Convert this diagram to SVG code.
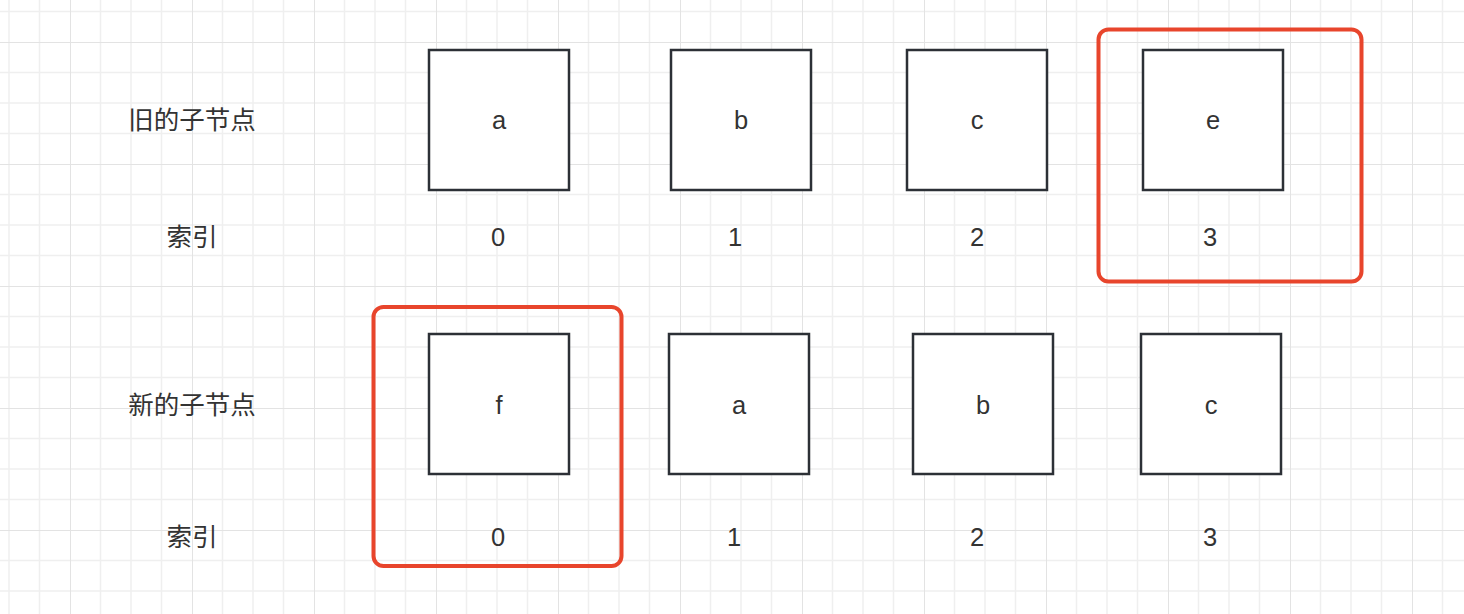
<svg xmlns="http://www.w3.org/2000/svg" width="1464" height="614" viewBox="0 0 1464 614">
  <defs>
    <pattern id="grid" x="70" y="42" width="122" height="122" patternUnits="userSpaceOnUse">
      <path d="M30.5 0V122M61 0V122M91.5 0V122M0 30.5H122M0 61H122M0 91.5H122" stroke="#efefef" stroke-width="1.5" fill="none"/>
      <path d="M0 0V122M0 0H122" stroke="#e3e3e3" stroke-width="2" fill="none"/>
    </pattern>
    <style>
      .box { fill: #ffffff; stroke: #2c3036; stroke-width: 2.5; }
      .hl { fill: none; stroke: #e8452c; stroke-width: 4; }
      .t { font-family: "Liberation Sans", "Noto Sans CJK SC", sans-serif; font-size: 25.5px; fill: #333333; text-anchor: middle; dominant-baseline: central; }
    </style>
  </defs>
  <rect width="1464" height="614" fill="#ffffff"/>
  <rect width="1464" height="614" fill="url(#grid)"/>

  <g id="labels">
    <text class="t" x="192" y="120">旧的子节点</text>
    <text class="t" x="192" y="237">索引</text>
    <text class="t" x="192" y="405">新的子节点</text>
    <text class="t" x="192" y="537">索引</text>
  </g>

  <g id="old-a"><rect class="box" x="429" y="50" width="140" height="140"/><text class="t" x="499" y="120">a</text><text class="t" x="498" y="237">0</text></g>
  <g id="old-b"><rect class="box" x="671" y="50" width="140" height="140"/><text class="t" x="741" y="120">b</text><text class="t" x="735" y="237">1</text></g>
  <g id="old-c"><rect class="box" x="907" y="50" width="140" height="140"/><text class="t" x="977" y="120">c</text><text class="t" x="977" y="237">2</text></g>
  <g id="old-e"><rect class="box" x="1143" y="50" width="140" height="140"/><text class="t" x="1213" y="120">e</text><text class="t" x="1210" y="237">3</text></g>

  <g id="new-f"><rect class="box" x="429" y="334" width="140" height="140"/><text class="t" x="499" y="405">f</text><text class="t" x="498" y="537">0</text></g>
  <g id="new-a"><rect class="box" x="669" y="334" width="140" height="140"/><text class="t" x="739" y="405">a</text><text class="t" x="734" y="537">1</text></g>
  <g id="new-b"><rect class="box" x="913" y="334" width="140" height="140"/><text class="t" x="983" y="405">b</text><text class="t" x="977" y="537">2</text></g>
  <g id="new-c"><rect class="box" x="1141" y="334" width="140" height="140"/><text class="t" x="1211" y="405">c</text><text class="t" x="1210" y="537">3</text></g>

  <g id="highlights">
    <rect class="hl" x="1098.5" y="29.5" width="263" height="252" rx="10"/>
    <rect class="hl" x="373.5" y="307" width="248" height="259" rx="10"/>
  </g>
  <g id="connectors"></g>
</svg>
